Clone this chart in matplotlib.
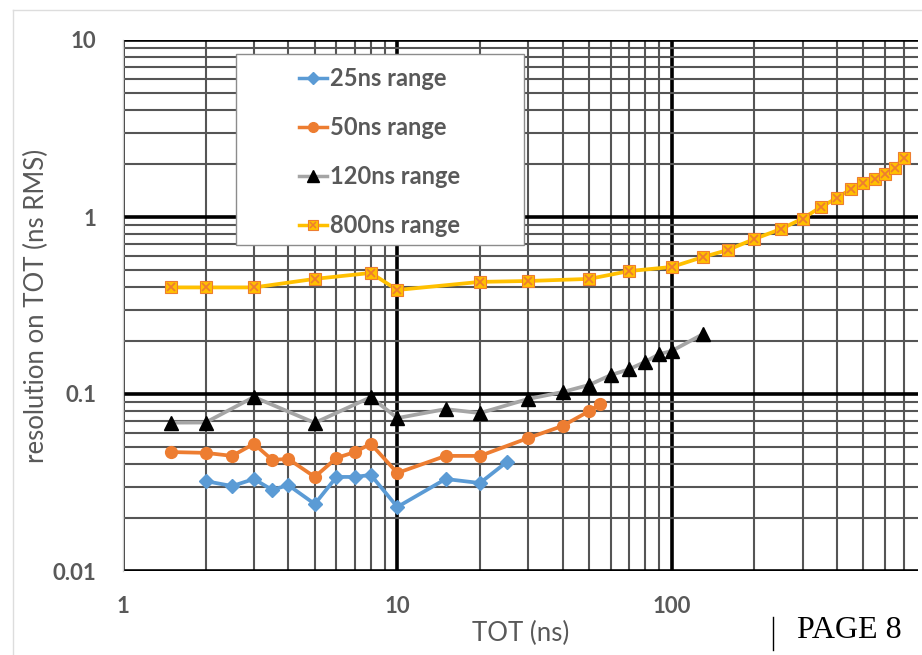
import matplotlib.pyplot as plt
from matplotlib.lines import Line2D
from matplotlib.patches import Rectangle
from matplotlib.ticker import LogLocator, NullFormatter, FixedLocator, FixedFormatter

plt.rcParams['font.family'] = ['Lato', 'DejaVu Sans']

# 25ns range
x25 = [2, 2.5, 3, 3.5, 4, 5, 6, 7, 8, 10, 15, 20, 25]
y25 = [0.0322, 0.0302, 0.0331, 0.0287, 0.0306, 0.0239, 0.034, 0.034, 0.0349,
       0.023, 0.0331, 0.0314, 0.0412]

# 50ns range
x50 = [1.5, 2, 2.5, 3, 3.5, 4, 5, 6, 7, 8, 10, 15, 20, 30, 40, 50, 55]
y50 = [0.047, 0.0465, 0.0447, 0.0523, 0.0424, 0.043, 0.034, 0.0435, 0.047,
       0.0523, 0.0358, 0.0447, 0.0447, 0.0564, 0.066, 0.080, 0.0879]

# 120ns range
x120 = [1.5, 2, 3, 5, 8, 10, 15, 20, 30, 40, 50, 60, 70, 80, 90, 100, 130]
y120 = [0.0689, 0.069, 0.0962, 0.0687, 0.096, 0.0731, 0.0822, 0.078, 0.0938,
        0.1026, 0.1125, 0.128, 0.138, 0.152, 0.168, 0.175, 0.218]

# 800ns range
x800 = [1.5, 2, 3, 5, 8, 10, 20, 30, 50, 70, 100, 130, 160, 200, 250, 300,
        350, 400, 450, 500, 550, 600, 650, 700]
y800 = [0.40, 0.40, 0.40, 0.447, 0.483, 0.387, 0.43, 0.435, 0.447, 0.495,
        0.522, 0.594, 0.651, 0.751, 0.855, 0.98, 1.14, 1.28, 1.44, 1.556,
        1.64, 1.75, 1.89, 2.16]

xticks = [1, 10, 100]
xtick_labels = ['1', '10', '100']
yticks = [0.01, 0.1, 1, 10]
ytick_labels = ['0.01', '0.1', '1', '10']

blue = '#5B9BD5'
orange = '#ED7D31'
grey = '#A5A5A5'
gold = '#FFC000'
txt = '#595959'

fig = plt.figure(figsize=(9.22, 6.55), dpi=100)
ax = fig.add_axes([123 / 922, 1 - 571 / 655, 795 / 922, 531 / 655])
ax.set_xscale('log')
ax.set_yscale('log')
ax.set_xlim(1, 790)
ax.set_ylim(0.01, 10)

ax.xaxis.set_major_locator(FixedLocator(xticks))
ax.xaxis.set_major_formatter(FixedFormatter(xtick_labels))
ax.yaxis.set_major_locator(FixedLocator(yticks))
ax.yaxis.set_major_formatter(FixedFormatter(ytick_labels))
ax.xaxis.set_minor_locator(LogLocator(base=10, subs=range(2, 10)))
ax.yaxis.set_minor_locator(LogLocator(base=10, subs=range(2, 10)))
ax.xaxis.set_minor_formatter(NullFormatter())
ax.yaxis.set_minor_formatter(NullFormatter())

ax.grid(which='minor', color='#555555', lw=1.5, zorder=0)
ax.grid(which='major', color='black', lw=2.6, zorder=0)
ax.tick_params(which='both', length=0)
ax.tick_params(axis='y', pad=19, labelsize=16, labelcolor=txt)
ax.tick_params(axis='x', pad=18, labelsize=16, labelcolor=txt)
for lab in ax.get_xticklabels() + ax.get_yticklabels():
    lab.set_fontweight('bold')

for s in ['top', 'right', 'bottom']:
    ax.spines[s].set_visible(False)
ax.spines['left'].set_color('#d0d0d0')
ax.spines['left'].set_linewidth(1)

ax.plot(x25, y25, color=blue, lw=2.7, marker='D', ms=7.5, mfc=blue, mec=blue,
        zorder=5)
ax.plot(x50, y50, color=orange, lw=2.7, marker='o', ms=8.5, mfc=orange, mec=orange,
        zorder=5)
ax.plot(x120, y120, color=grey, lw=2.7, marker='^', ms=9.5, mfc='black', mec='black',
        zorder=5)
ax.plot(x800, y800, color=gold, lw=2.7, marker='s', ms=8.5, mfc=gold, mec=orange,
        mew=0.8, zorder=5)
ax.plot(x800, y800, ls='none', marker='x', ms=6, mec=orange, mew=1.3, zorder=6)

ax.set_xlabel('TOT (ns)', fontsize=18.5, color=txt, labelpad=3)
ax.set_ylabel('resolution on TOT (ns RMS)', fontsize=18.5, color=txt, labelpad=3)

# legend box
ax.add_patch(Rectangle((0.142, 0.614), 0.362, 0.36, transform=ax.transAxes,
                       facecolor='white', edgecolor='#8c8c8c', lw=1, zorder=8))
handles = [
    Line2D([], [], color=blue, lw=2.5, marker='D', ms=6, mfc=blue, mec=blue),
    Line2D([], [], color=orange, lw=2.5, marker='o', ms=7, mfc=orange, mec=orange),
    Line2D([], [], color=grey, lw=2.5, marker='^', ms=8, mfc='black', mec='black'),
    (Line2D([], [], color=gold, lw=2.5, marker='s', ms=7, mfc=gold, mec=orange, mew=0.8),
     Line2D([], [], ls='none', marker='x', ms=4.5, mec=orange, mew=1.1)),
]
labels = ['25ns range', '50ns range', '120ns range', '800ns range']
leg = ax.legend(handles, labels, loc='upper left', bbox_to_anchor=(0.221, 0.949),
                frameon=False, fontsize=17, handlelength=1.2, handletextpad=0.12,
                labelspacing=1.1, borderpad=0, borderaxespad=0)
leg.set_zorder(9)
for t in leg.get_texts():
    t.set_color(txt)
    t.set_fontweight('bold')

# slide frame and page footer
fig.add_artist(Line2D([13 / 922, 13 / 922], [0, 1 - 10 / 655], color='#dddddd', lw=1))
fig.add_artist(Line2D([13 / 922, 1], [1 - 10 / 655, 1 - 10 / 655], color='#dddddd', lw=1))
fig.add_artist(Line2D([773 / 922, 773 / 922], [1 - 650 / 655, 1 - 617 / 655],
                      color='black', lw=1))
fig.text(797 / 922, 1 - 631 / 655, 'PAGE 8', fontsize=23, family='Liberation Serif',
         color='black', ha='left', va='center')

fig.savefig('out.png', dpi=100)
